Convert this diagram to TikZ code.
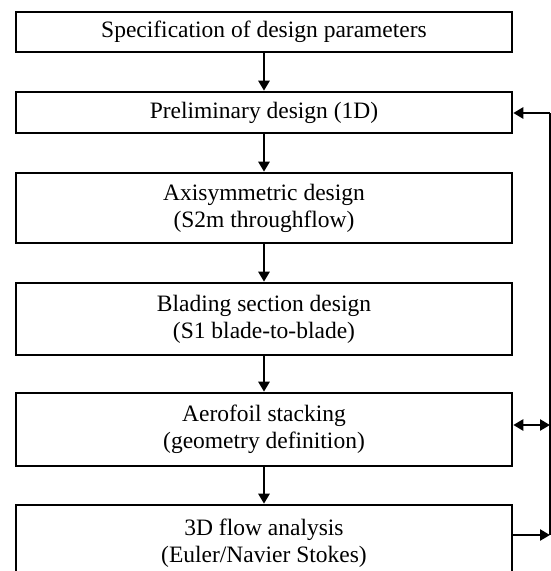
\documentclass[tikz,border=0pt]{standalone}
\usepackage{fontspec}
\setmainfont{Liberation Serif}
\usetikzlibrary{arrows.meta}
\begin{document}
\begin{tikzpicture}[x=1pt,y=-1pt,
  stepbox/.style={draw, line width=2.6pt, minimum width=496pt, align=center,
    inner sep=0pt, font=\fontsize{23.5}{27}\selectfont},
  flow/.style={line width=2.6pt, -{Triangle[length=10pt,width=11pt]}}]
\useasboundingbox (0,0) rectangle (551,571);
\node[stepbox, minimum height=40pt] (b1) at (264,32) {Specification of design parameters};
\node[stepbox, minimum height=41pt] (b2) at (264,112.5) {Preliminary design (1D)};
\node[stepbox, minimum height=70pt] (b3) at (264,208) {Axisymmetric design\\(S2m throughflow)};
\node[stepbox, minimum height=72pt] (b4) at (264,319) {Blading section design\\(S1 blade-to-blade)};
\node[stepbox, minimum height=73pt] (b5) at (264,429.5) {Aerofoil stacking\\(geometry definition)};
\node[stepbox, minimum height=76pt] (b6) at (264,543) {3D flow analysis\\(Euler/Navier Stokes)};
\draw[flow] (b1) -- (b2);
\draw[flow] (b2) -- (b3);
\draw[flow] (b3) -- (b4);
\draw[flow] (b4) -- (b5);
\draw[flow] (b5) -- (b6);
\coordinate (r1) at (550,113);
\coordinate (r2) at (550,425);
\coordinate (r3) at (550,535);
\draw[line width=2.6pt] (r1) -- (r3);
\draw[flow] (r1) -- (b2.east |- r1);
\draw[line width=2.6pt, {Triangle[length=10pt,width=11pt]}-{Triangle[length=10pt,width=11pt]}] (b5.east |- r2) -- (r2);
\draw[flow] (b6.east |- r3) -- (r3);
\end{tikzpicture}
\end{document}
